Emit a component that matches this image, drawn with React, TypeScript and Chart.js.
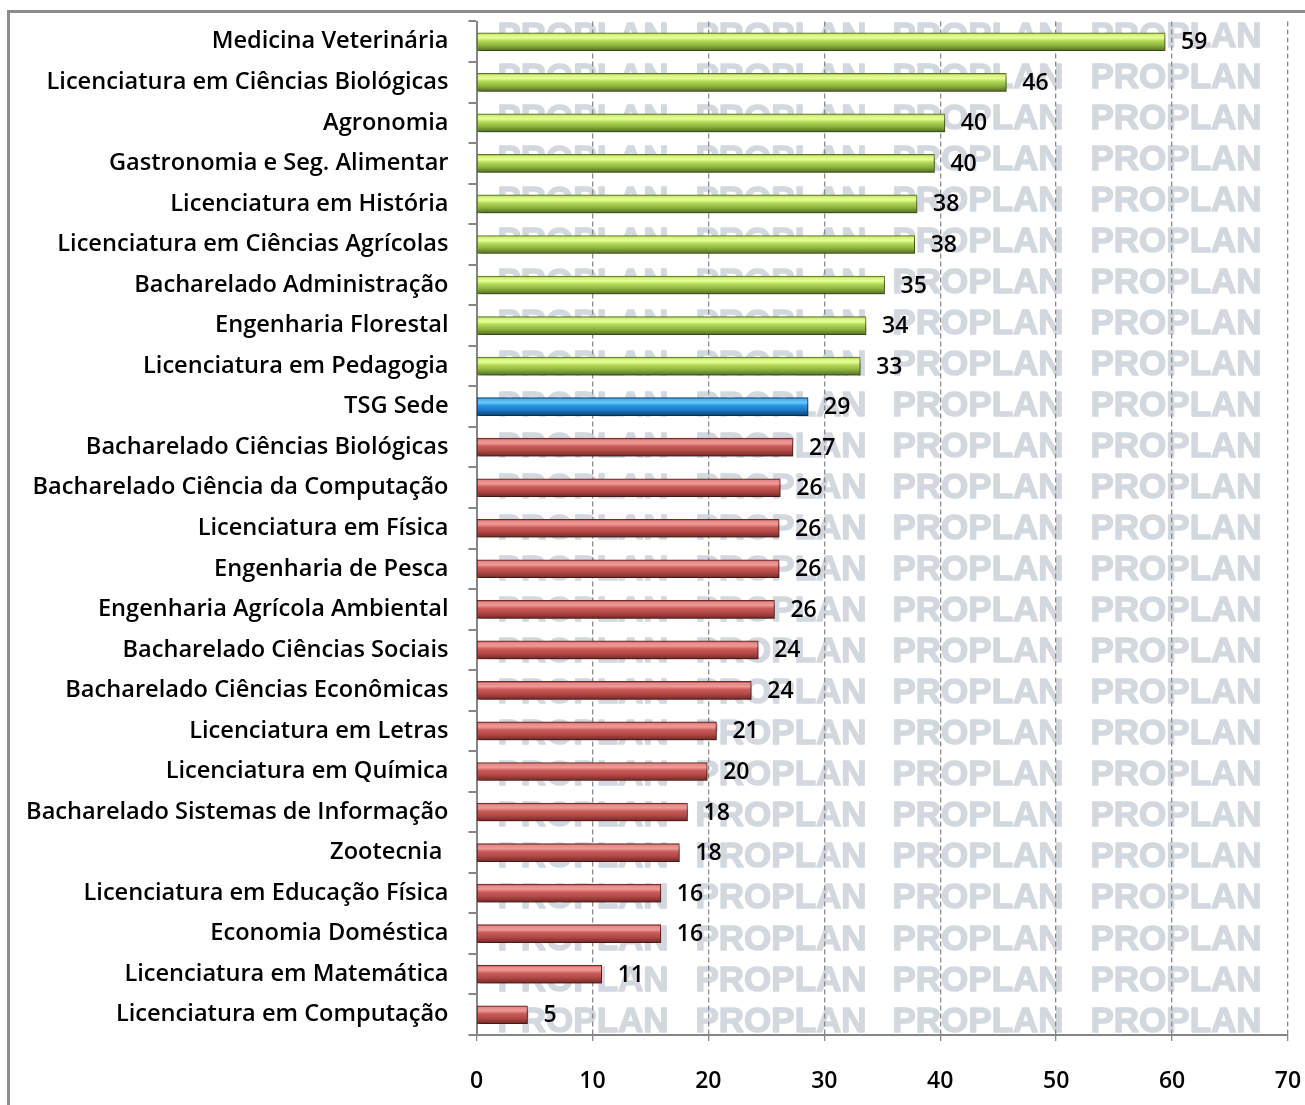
import React, { useEffect, useRef } from 'react';
import { Chart, registerables } from 'chart.js';

Chart.register(...registerables);

const categories = [
  'Medicina Veterinária',
  'Licenciatura em Ciências Biológicas',
  'Agronomia',
  'Gastronomia e Seg. Alimentar',
  'Licenciatura em História',
  'Licenciatura em Ciências Agrícolas',
  'Bacharelado Administração',
  'Engenharia Florestal',
  'Licenciatura em Pedagogia',
  'TSG Sede',
  'Bacharelado Ciências Biológicas',
  'Bacharelado Ciência da Computação',
  'Licenciatura em Física',
  'Engenharia de Pesca',
  'Engenharia Agrícola Ambiental',
  'Bacharelado Ciências Sociais',
  'Bacharelado Ciências Econômicas',
  'Licenciatura em Letras',
  'Licenciatura em Química',
  'Bacharelado Sistemas de Informação',
  'Zootecnia ',
  'Licenciatura em Educação Física',
  'Economia Doméstica',
  'Licenciatura em Matemática',
  'Licenciatura em Computação',
];

const values = [
  59.4, 45.7, 40.4, 39.5, 38.0, 37.8, 35.2, 33.6, 33.1, 28.6,
  27.3, 26.2, 26.1, 26.1, 25.7, 24.3, 23.7, 20.7, 19.9, 18.2,
  17.5, 15.9, 15.9, 10.8, 4.4,
];

const valueLabels = [
  '59', '46', '40', '40', '38', '38', '35', '34', '33', '29',
  '27', '26', '26', '26', '26', '24', '24', '21', '20', '18',
  '18', '16', '16', '11', '5',
];

const groups = [
  'green', 'green', 'green', 'green', 'green', 'green', 'green', 'green', 'green',
  'blue',
  'red', 'red', 'red', 'red', 'red', 'red', 'red', 'red', 'red', 'red',
  'red', 'red', 'red', 'red', 'red',
];

const xTickValues = [0, 10, 20, 30, 40, 50, 60, 70];
const watermarkText = 'PROPLAN';

const BAR_THICKNESS = 18;
const FONT = '"Open Sans"';

const palettes: Record<string, { stops: [number, string][]; border: string; solid: string }> = {
  green: {
    stops: [
      [0, '#7a9a36'], [0.1, '#d4f278'], [0.28, '#e8ff98'], [0.45, '#b2d957'],
      [0.68, '#92b842'], [0.86, '#6e8f2e'], [1, '#536e26'],
    ],
    border: '#5a7628',
    solid: '#9bbb59',
  },
  blue: {
    stops: [
      [0, '#1a5c98'], [0.1, '#4cb2f0'], [0.28, '#68c6ff'], [0.45, '#2894de'],
      [0.68, '#1a7bca'], [0.86, '#125a98'], [1, '#0c4274'],
    ],
    border: '#0d477c',
    solid: '#1f8ad8',
  },
  red: {
    stops: [
      [0, '#8c3331'], [0.1, '#e58a87'], [0.28, '#ee9a97'], [0.45, '#c95b58'],
      [0.68, '#b44b48'], [0.86, '#903735'], [1, '#742927'],
    ],
    border: '#722826',
    solid: '#c0504d',
  },
};

const barFill = (ctx: any) => {
  const chart = ctx.chart;
  const idx = ctx.dataIndex;
  const pal = palettes[groups[idx] ?? 'red'];
  const yScale = chart.scales?.y;
  if (!chart.chartArea || !yScale || idx === undefined) return pal.solid;
  const c = yScale.getPixelForValue(idx);
  const g = chart.ctx.createLinearGradient(0, c - BAR_THICKNESS / 2, 0, c + BAR_THICKNESS / 2);
  pal.stops.forEach(([o, col]) => g.addColorStop(o, col));
  return g;
};

const barBorder = (ctx: any) => {
  const pal = palettes[groups[ctx.dataIndex] ?? 'red'];
  return pal.border;
};

const zeroPadding = (scale: any) => {
  scale.paddingTop = 0;
  scale.paddingBottom = 0;
  scale.paddingLeft = 0;
  scale.paddingRight = 0;
};

const watermarkPlugin = {
  id: 'watermark',
  beforeDraw(chart: any) {
    const { ctx, chartArea } = chart;
    if (!chartArea) return;
    ctx.save();
    ctx.font = 'bold 35px "Liberation Sans"';
    ctx.fillStyle = '#d3d8df';
    ctx.strokeStyle = '#d3d8df';
    ctx.lineWidth = 1.4;
    ctx.lineJoin = 'round';
    ctx.textAlign = 'left';
    ctx.textBaseline = 'middle';
    const cols = [21, 219, 416, 614];
    const rowStep = 41.04;
    for (let i = 0; i < categories.length; i++) {
      const y = chartArea.top + 14.5 + i * rowStep;
      cols.forEach((dx) => {
        ctx.fillText(watermarkText, chartArea.left + dx, y + 1);
        ctx.strokeText(watermarkText, chartArea.left + dx, y + 1);
      });
    }
    ctx.restore();
  },
};

const barDecorPlugin = {
  id: 'barDecor',
  beforeDatasetsDraw(chart: any) {
    const ctx = chart.ctx;
    ctx.save();
    ctx.shadowColor = 'rgba(0,0,0,0.42)';
    ctx.shadowBlur = 4;
    ctx.shadowOffsetX = 2;
    ctx.shadowOffsetY = 4;
  },
  afterDatasetsDraw(chart: any) {
    const ctx = chart.ctx;
    ctx.restore();
    const meta = chart.getDatasetMeta(0);
    ctx.save();
    ctx.font = `600 23px ${FONT}`;
    ctx.fillStyle = '#000';
    ctx.textAlign = 'left';
    ctx.textBaseline = 'middle';
    meta.data.forEach((el: any, i: number) => {
      ctx.fillText(valueLabels[i], el.x + 16, el.y + 1);
    });
    ctx.restore();
  },
};

export default function App() {
  const ref = useRef<HTMLCanvasElement>(null);

  useEffect(() => {
    if (!ref.current) return;
    const chart = new Chart(ref.current, {
      type: 'bar',
      data: {
        labels: categories,
        datasets: [
          {
            data: values,
            backgroundColor: barFill,
            borderColor: barBorder,
            borderWidth: 1,
            borderSkipped: false,
            barThickness: BAR_THICKNESS,
          },
        ],
      },
      options: {
        indexAxis: 'y',
        responsive: false,
        animation: false,
        events: [],
        layout: { padding: { top: 21.5, right: 17, bottom: 0, left: 0 } },
        plugins: {
          legend: { display: false },
          tooltip: { enabled: false },
        },
        scales: {
          x: {
            min: 0,
            max: 70,
            afterFit: (scale: any) => {
              scale.height = 70;
              zeroPadding(scale);
            },
            afterBuildTicks: (scale: any) => {
              scale.ticks = xTickValues.map((v) => ({ value: v }));
            },
            grid: {
              color: '#8a8a8a',
              lineWidth: 1.3,
              tickLength: 8,
              tickBorderDash: [5, 3],
            },
            border: { display: true, color: '#868686', width: 2, dash: [5, 3] },
            ticks: {
              color: '#000',
              padding: 25,
              font: { family: FONT, size: 23, weight: '600' },
            },
          },
          y: {
            afterFit: (scale: any) => {
              scale.width = 476.5;
              zeroPadding(scale);
            },
            grid: {
              drawOnChartArea: false,
              color: '#868686',
              lineWidth: 2,
              tickLength: 8,
              offset: true,
            },
            border: { display: true, color: '#868686', width: 2 },
            ticks: {
              color: '#000',
              padding: 20,
              autoSkip: false,
              font: { family: FONT, size: 23.6, weight: '600' },
            },
          },
        },
      },
      plugins: [watermarkPlugin, barDecorPlugin],
    });
    return () => chart.destroy();
  }, []);

  return (
    <div
      style={{
        position: 'absolute',
        left: 0,
        top: 0,
        width: 1305,
        height: 1105,
        overflow: 'hidden',
        background: '#ffffff',
      }}
    >
      <canvas
        ref={ref}
        width={1305}
        height={1105}
        style={{ position: 'absolute', left: 0, top: 0, width: 1305, height: 1105 }}
      />
      <div
        style={{
          position: 'absolute',
          left: 7,
          top: 10,
          width: 1400,
          height: 1200,
          borderTop: '3px solid #8c8c8c',
          borderLeft: '3px solid #8c8c8c',
          pointerEvents: 'none',
        }}
      />
    </div>
  );
}
